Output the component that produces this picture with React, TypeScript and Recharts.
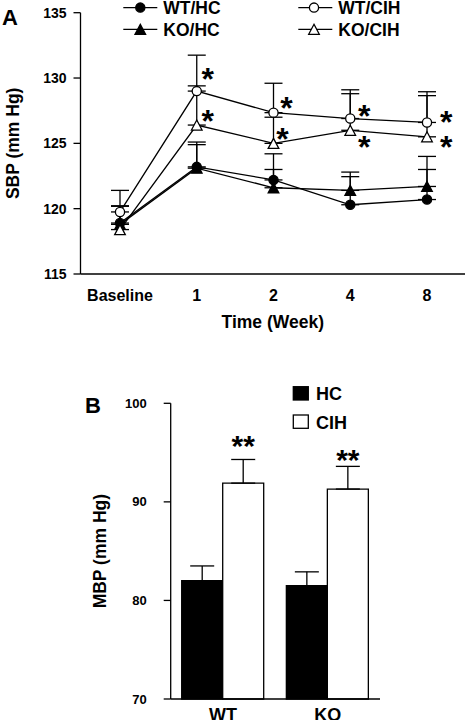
import {
  LineChart,
  Line,
  BarChart,
  Bar,
  XAxis,
  YAxis,
  ErrorBar,
  Legend,
} from "recharts";

// Panel A: systolic pressure over time
const TIME_POINTS = ["Baseline", "1", "2", "4", "8"];
const WT_HC = [118.9, 123.2, 122.2, 120.3, 120.7];
const WT_HC_SEM = [1.3, 1.9, 2.0, 2.15, 2.3];
const KO_HC = [118.8, 123.1, 121.6, 121.4, 121.7];
const KO_HC_SEM = [1.4, 1.8, 1.4, 1.4, 2.3];
const WT_CIH = [119.75, 129.0, 127.35, 126.9, 126.6];
const WT_CIH_SEM = [1.65, 2.75, 2.25, 2.2, 2.35];
const KO_CIH = [118.4, 126.4, 125.0, 126.0, 125.5];
const KO_CIH_SEM = [1.8, 3.0, 2.0, 2.8, 3.15];
const WT_CIH_SIG = ["", "*", "*", "*", "*"];
const KO_CIH_SIG = ["", "*", "*", "*", "*"];
const SBP_TICKS = [115, 120, 125, 130, 135];

// Panel B: mean pressure
const GENOTYPES = ["WT", "KO"];
const MBP_HC = [82.0, 81.5];
const MBP_HC_SEM = [1.5, 1.4];
const MBP_CIH = [91.9, 91.3];
const MBP_CIH_SEM = [2.4, 2.3];
const MBP_CIH_SIG = ["**", "**"];
const MBP_TICKS = [70, 80, 90, 100];

const FONT = '"Liberation Sans", Arial, sans-serif';
const INK = "#000";
const SW = 1.3;

// where each asterisk sits relative to its point (px)
const WT_CIH_STAR_OFFSET = [[0, 0], [11, -18.5], [13, -11], [14, -9], [19.3, -7.4]];
const KO_CIH_STAR_OFFSET = [[0, 0], [11, -11], [9, -11], [14, 10], [19.3, 3.8]];
const BAR_STAR_RISE = [43.7, 35.9];

const sbpData = TIME_POINTS.map((t, i) => ({
  time: t,
  wtHc: WT_HC[i],
  wtHcErr: [0, WT_HC_SEM[i]],
  koHc: KO_HC[i],
  koHcErr: [0, KO_HC_SEM[i]],
  wtCih: WT_CIH[i],
  wtCihErr: [0, WT_CIH_SEM[i]],
  koCih: KO_CIH[i],
  koCihErr: [0, KO_CIH_SEM[i]],
}));

const mbpData = GENOTYPES.map((g, i) => ({
  group: g,
  hc: MBP_HC[i],
  hcErr: [0, MBP_HC_SEM[i]],
  cih: MBP_CIH[i],
  cihErr: [0, MBP_CIH_SEM[i]],
}));

type Marker = "circle" | "triangle";

function markerShape(shape: Marker, cx: number, cy: number, filled: boolean, key?: string) {
  const fill = filled ? INK : "#fff";
  if (shape === "circle") {
    return <circle key={key} cx={cx} cy={cy} r={4.6} fill={fill} stroke={INK} strokeWidth={SW} />;
  }
  const pts = `${cx},${cy - 5} ${cx + 5.3},${cy + 5} ${cx - 5.3},${cy + 5}`;
  return <polygon key={key} points={pts} fill={fill} stroke={INK} strokeWidth={SW} />;
}

const dotFor = (shape: Marker, filled: boolean) => (props: any) =>
  markerShape(shape, props.cx, props.cy, filled, `dot-${props.index}`);

const starFor = (sig: string[], offsets: number[][]) => (props: any) => {
  const { x, y, index } = props;
  if (!sig[index]) return null;
  const [dx, dy] = offsets[index];
  const fs = 32;
  return (
    <text
      key={`star-${index}`}
      x={x + dx}
      y={y + dy + fs * 0.546}
      textAnchor="middle"
      fontSize={fs}
      fontWeight="bold"
      fontFamily={FONT}
      fill={INK}
    >
      {sig[index]}
    </text>
  );
};

const LEGEND_A = [
  { name: "WT/HC", shape: "circle" as Marker, filled: true, lx: 123.3, mx: 140.3, tx: 163.3, cy: 7.6 },
  { name: "KO/HC", shape: "triangle" as Marker, filled: true, lx: 123.3, mx: 140.3, tx: 163.3, cy: 29.3 },
  { name: "WT/CIH", shape: "circle" as Marker, filled: false, lx: 298.3, mx: 314, tx: 338.3, cy: 7.6 },
  { name: "KO/CIH", shape: "triangle" as Marker, filled: false, lx: 298.3, mx: 314, tx: 338.3, cy: 29.3 },
];

function LegendA() {
  return (
    <svg width={468} height={42} style={{ display: "block" }}>
      <text x={2} y={25} fontSize={22} fontWeight="bold" fontFamily={FONT} fill={INK}>
        A
      </text>
      {LEGEND_A.map((e) => (
        <g key={e.name}>
          <line x1={e.lx} x2={e.lx + 34} y1={e.cy} y2={e.cy} stroke={INK} strokeWidth={SW} />
          {markerShape(e.shape, e.mx, e.cy, e.filled)}
          <text x={e.tx} y={e.cy + 6.2} fontSize={17.5} fontWeight="bold" fontFamily={FONT} fill={INK}>
            {e.name}
          </text>
        </g>
      ))}
    </svg>
  );
}

function LegendB() {
  return (
    <svg width={468} height={75} style={{ display: "block" }}>
      <text x={85} y={53} fontSize={22} fontWeight="bold" fontFamily={FONT} fill={INK}>
        B
      </text>
      <rect x={293.3} y={26.7} width={15} height={13.3} fill={INK} stroke={INK} strokeWidth={SW} />
      <text x={316} y={39.6} fontSize={18} fontWeight="bold" fontFamily={FONT} fill={INK}>
        HC
      </text>
      <rect x={293.3} y={55} width={15} height={13.3} fill="#fff" stroke={INK} strokeWidth={SW} />
      <text x={316} y={68.6} fontSize={18} fontWeight="bold" fontFamily={FONT} fill={INK}>
        CIH
      </text>
    </svg>
  );
}

const barStar = (props: any) => {
  const { x, y, width, index } = props;
  const fs = 30;
  return (
    <text
      key={`bstar-${index}`}
      x={x + width / 2}
      y={y - BAR_STAR_RISE[index] + fs * 0.546}
      textAnchor="middle"
      fontSize={fs}
      fontWeight="bold"
      fontFamily={FONT}
      fill={INK}
    >
      {MBP_CIH_SIG[index]}
    </text>
  );
};

const axisLine = { stroke: INK, strokeWidth: SW };

export default function App() {
  return (
    <div
      style={{
        position: "absolute",
        left: 0,
        top: 0,
        width: 468,
        height: 720,
        overflow: "hidden",
        background: "#fff",
        fontFamily: FONT,
      }}
    >
      <div style={{ position: "absolute", left: 0, top: 0 }}>
        <LineChart
          width={468}
          height={340}
          data={sbpData}
          margin={{ top: 12.7, right: 3, bottom: 0, left: 0 }}
        >
          <XAxis
            dataKey="time"
            padding={{ left: 39.5, right: 38 }}
            height={66}
            axisLine={axisLine}
            tickLine={false}
            tickSize={8}
            tickMargin={8}
            tick={{ fill: INK, fontSize: 16, fontWeight: "bold" }}
            label={{
              value: "Time (Week)",
              position: "insideBottom",
              offset: 12,
              style: { fill: INK, fontSize: 17.5, fontWeight: "bold", fontFamily: FONT },
            }}
          />
          <YAxis
            type="number"
            domain={[115, 135]}
            ticks={SBP_TICKS}
            width={80.5}
            axisLine={axisLine}
            tickLine={{ stroke: INK, strokeWidth: SW }}
            tickSize={7}
            tickMargin={7}
            tick={{ fill: INK, fontSize: 14, fontWeight: "bold" }}
            label={{
              value: "SBP (mm Hg)",
              angle: -90,
              position: "insideLeft",
              offset: 13,
              style: { fill: INK, fontSize: 17.5, fontWeight: "bold", fontFamily: FONT, textAnchor: "middle" },
            }}
          />
          <Legend
            verticalAlign="middle"
            layout="horizontal"
            wrapperStyle={{ top: 0, left: 0, width: 468, height: 42 }}
            content={() => <LegendA />}
          />
          <Line
            dataKey="wtHc"
            name="WT/HC"
            stroke={INK}
            strokeWidth={SW}
            dot={dotFor("circle", true)}
            activeDot={false}
            isAnimationActive={false}
          >
            <ErrorBar dataKey="wtHcErr" direction="y" width={9} stroke={INK} strokeWidth={SW} />
          </Line>
          <Line
            dataKey="koHc"
            name="KO/HC"
            stroke={INK}
            strokeWidth={SW}
            dot={dotFor("triangle", true)}
            activeDot={false}
            isAnimationActive={false}
          >
            <ErrorBar dataKey="koHcErr" direction="y" width={9} stroke={INK} strokeWidth={SW} />
          </Line>
          <Line
            dataKey="koCih"
            name="KO/CIH"
            stroke={INK}
            strokeWidth={SW}
            dot={dotFor("triangle", false)}
            activeDot={false}
            label={starFor(KO_CIH_SIG, KO_CIH_STAR_OFFSET)}
            isAnimationActive={false}
          >
            <ErrorBar dataKey="koCihErr" direction="y" width={9} stroke={INK} strokeWidth={SW} />
          </Line>
          <Line
            dataKey="wtCih"
            name="WT/CIH"
            stroke={INK}
            strokeWidth={SW}
            dot={dotFor("circle", false)}
            activeDot={false}
            label={starFor(WT_CIH_SIG, WT_CIH_STAR_OFFSET)}
            isAnimationActive={false}
          >
            <ErrorBar dataKey="wtCihErr" direction="y" width={9} stroke={INK} strokeWidth={SW} />
          </Line>
        </LineChart>
      </div>

      <div style={{ position: "absolute", left: 0, top: 360 }}>
        <BarChart
          width={468}
          height={380}
          data={mbpData}
          barGap={0}
          barSize={41}
          margin={{ top: 43.3, right: 88, bottom: 11, left: 0 }}
        >
          <XAxis
            dataKey="group"
            height={30}
            axisLine={axisLine}
            tickLine={false}
            tickSize={0}
            tickMargin={9}
            tick={{ fill: INK, fontSize: 18, fontWeight: "bold" }}
          />
          <YAxis
            type="number"
            domain={[70, 100]}
            ticks={MBP_TICKS}
            width={170.7}
            axisLine={axisLine}
            tickLine={{ stroke: INK, strokeWidth: SW }}
            tickSize={7}
            tickMargin={17}
            tick={{ fill: INK, fontSize: 13, fontWeight: "bold" }}
            label={{
              value: "MBP (mm Hg)",
              angle: -90,
              position: "insideLeft",
              offset: 100,
              style: { fill: INK, fontSize: 17.5, fontWeight: "bold", fontFamily: FONT, textAnchor: "middle" },
            }}
          />
          <Legend
            verticalAlign="middle"
            layout="horizontal"
            wrapperStyle={{ top: 0, left: 0, width: 468, height: 75 }}
            content={() => <LegendB />}
          />
          <Bar dataKey="hc" name="HC" fill={INK} stroke={INK} strokeWidth={SW} isAnimationActive={false}>
            <ErrorBar dataKey="hcErr" direction="y" width={12} stroke={INK} strokeWidth={SW} />
          </Bar>
          <Bar
            dataKey="cih"
            name="CIH"
            fill="#fff"
            stroke={INK}
            strokeWidth={SW}
            label={barStar}
            isAnimationActive={false}
          >
            <ErrorBar dataKey="cihErr" direction="y" width={12} stroke={INK} strokeWidth={SW} />
          </Bar>
        </BarChart>
      </div>
    </div>
  );
}
